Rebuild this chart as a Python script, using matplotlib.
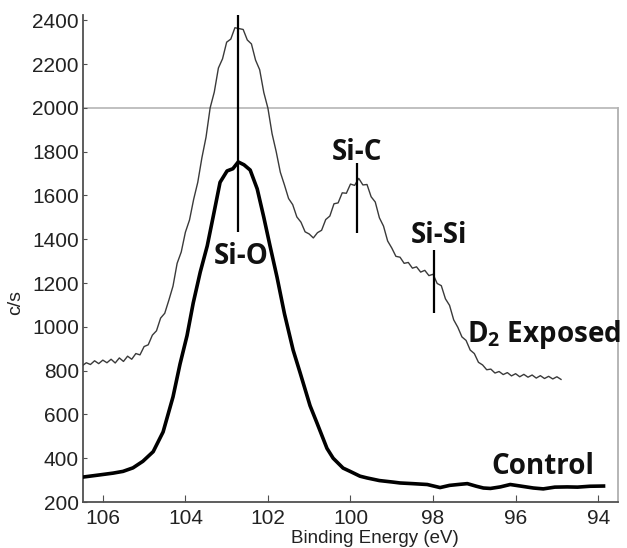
import matplotlib
matplotlib.use("Agg")
import matplotlib.pyplot as plt
import numpy as np

# binding energy grid of the D2 exposed trace (eV)
d2_energy = np.round(np.arange(106.5, 94.85, -0.1), 2)
# counts
d2_counts = [822, 836, 828, 845, 832, 848, 836, 852, 835, 858,
             842, 866, 852, 878, 872, 910, 918, 962, 982, 1040,
             1062, 1122, 1186, 1290, 1342, 1432, 1488, 1582, 1660, 1772,
             1866, 2000, 2072, 2182, 2224, 2300, 2314, 2366, 2362, 2358,
             2310, 2292, 2218, 2174, 2070, 1998, 1882, 1800, 1706, 1648,
             1586, 1558, 1502, 1478, 1434, 1424, 1406, 1430, 1441, 1490,
             1506, 1562, 1566, 1612, 1610, 1652, 1646, 1678, 1648, 1650,
             1594, 1570, 1498, 1460, 1392, 1360, 1322, 1318, 1290, 1294,
             1268, 1274, 1250, 1258, 1234, 1240, 1198, 1188, 1128, 1098,
             1032, 998, 954, 938, 894, 878, 838, 826, 804, 807,
             789, 796, 782, 791, 776, 786, 772, 783, 770, 780,
             766, 777, 764, 774, 762, 772, 760]

# control trace
ctrl_energy = [106.48, 106.07, 105.75, 105.51, 105.27, 105.03, 104.78, 104.54,
               104.30, 104.13, 103.96, 103.81, 103.64, 103.47, 103.33, 103.16,
               102.99, 102.85, 102.72, 102.58, 102.43, 102.26, 102.10, 101.95,
               101.78, 101.60, 101.39, 101.22, 100.98, 100.81, 100.57, 100.42,
               100.18, 100.01, 99.77, 99.60, 99.30, 98.97, 98.80, 98.50,
               98.14, 97.83, 97.60, 97.34, 97.17, 96.95, 96.78, 96.61,
               96.37, 96.13, 95.85, 95.57, 95.33, 95.05, 94.75, 94.50,
               94.20, 93.87]
ctrl_counts = [314, 324, 332, 340, 356, 386, 430, 520,
               680, 830, 960, 1109, 1250, 1370, 1500, 1660,
               1712, 1722, 1753, 1740, 1716, 1630, 1500, 1370,
               1227, 1060, 894, 790, 640, 560, 445, 400,
               355, 340, 318, 310, 298, 291, 287, 284,
               280, 266, 276, 281, 284, 272, 264, 262,
               269, 280, 272, 264, 260, 268, 269, 268,
               272, 273]

# peak markers: (energy, bottom, top)
mark_energy = [102.72, 99.84, 97.97]
mark_bottom = [1433, 1428, 1063]
mark_top = [2424, 1748, 1351]

labels = ["Si-O", "Si-C", "Si-Si"]
label_x = [102.66, 99.84, 97.85]
label_y = [1319, 1794, 1419]

plt.rcParams["mathtext.fontset"] = "custom"
plt.rcParams["mathtext.bf"] = "Open Sans:bold"
plt.rcParams["mathtext.rm"] = "Open Sans:bold"

fig = plt.figure(figsize=(6.27, 5.48), dpi=100)
ax = fig.add_axes([0.1324, 0.0839, 0.8532, 0.8887])

ax.plot(d2_energy, d2_counts, color="#3a3a3a", lw=1.0, zorder=3)
ax.plot(ctrl_energy, ctrl_counts, color="black", lw=2.6, zorder=3)
ax.vlines(mark_energy, mark_bottom, mark_top, color="black", lw=1.6, zorder=4)

bold = dict(family="Open Sans", fontweight="bold", fontsize=20, color="#111111")
for t, x, y in zip(labels, label_x, label_y):
    ax.text(x, y, t, ha="center", va="center", **bold)

ax.text(97.17, 963, r"$\mathbf{D_2}$ Exposed", ha="left", va="center", clip_on=False, **bold)
ax.text(95.35, 364, "Control", ha="center", va="center", **bold)

ax.set_xlim(106.48, 93.52)
ax.set_ylim(200, 2424)

# the original frame stops at 2000 on top and right
ax.spines["top"].set_visible(False)
ax.spines["right"].set_visible(False)
ax.axhline(2000, color="#b5b5b5", lw=1.2, zorder=1)
ax.plot([93.52, 93.52], [200, 2000], color="#b5b5b5", lw=1.4, clip_on=False, zorder=1)
for s in ["left", "bottom"]:
    ax.spines[s].set_color("#505050")
    ax.spines[s].set_linewidth(1.3)

ax.set_xticks([106, 104, 102, 100, 98, 96, 94])
ax.set_yticks(range(200, 2401, 200))
ax.tick_params(axis="both", direction="in", colors="#505050", labelcolor="#222222",
               labelsize=15, labelfontfamily="Liberation Sans")
ax.tick_params(axis="x", length=5, pad=5)
ax.tick_params(axis="y", length=3, pad=3)

ax.set_xlabel("Binding Energy (eV)", family="Liberation Sans", fontsize=13.5, color="#222222")
ax.xaxis.set_label_coords(0.546, -0.058)
ax.set_ylabel("c/s", family="Liberation Sans", fontsize=14, color="#222222")
ax.yaxis.set_label_coords(-0.11, 0.41)

fig.savefig("out.png", dpi=100)
